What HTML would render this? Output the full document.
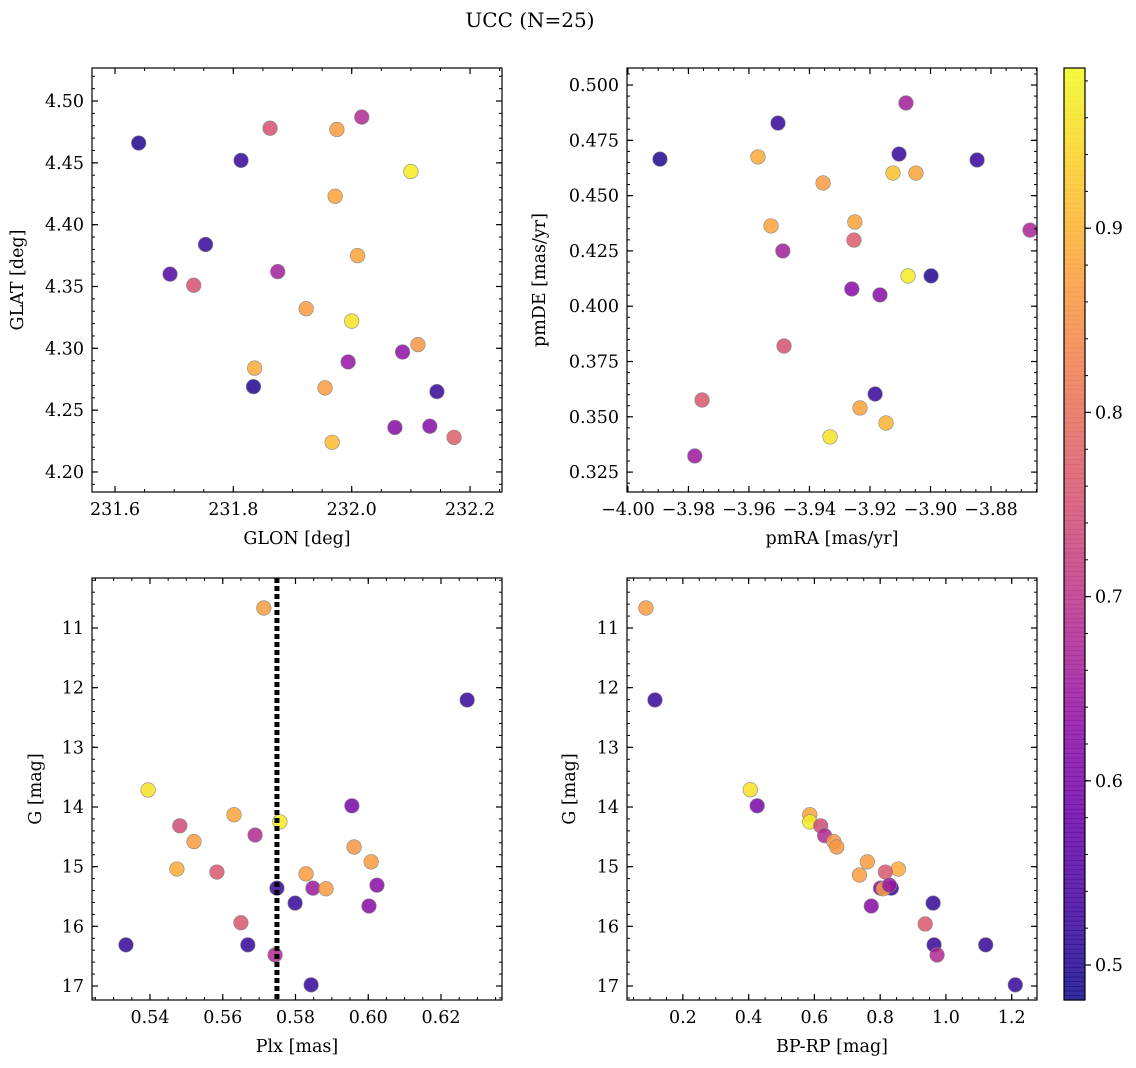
<!DOCTYPE html>
<html><head><meta charset="utf-8">
<style>
html,body{margin:0;padding:0;background:#fff;}
svg{display:block;font-family:"DejaVu Serif","Liberation Serif",serif;}
</style></head>
<body>
<svg id="fig" width="1136" height="1068" viewBox="0 0 1136 1068" xmlns="http://www.w3.org/2000/svg">
<text x="530" y="27" font-size="20" text-anchor="middle">UCC (N=25)</text>
</svg>
<script>
// ---- data (per panel) ----
const glon = [231.640,231.813,231.862,231.975,232.017,232.100,231.972,231.753,232.010,231.693,231.733,231.875,231.923,232.000,232.112,232.086,231.994,231.836,231.834,231.955,232.144,231.967,232.073,232.132,232.173];
const glat = [4.466,4.452,4.478,4.477,4.487,4.443,4.423,4.384,4.375,4.360,4.351,4.362,4.332,4.322,4.303,4.297,4.289,4.284,4.269,4.268,4.265,4.224,4.236,4.237,4.228];
const probTL = [0.50,0.52,0.75,0.87,0.68,0.97,0.88,0.52,0.88,0.55,0.75,0.66,0.87,0.96,0.86,0.63,0.64,0.89,0.50,0.87,0.52,0.91,0.62,0.62,0.77];
const pmra = [-3.9894,-3.9504,-3.9570,-3.9355,-3.9081,-3.9104,-3.8846,-3.9124,-3.9048,-3.9527,-3.9250,-3.9488,-3.9253,-3.8671,-3.9074,-3.8998,-3.9260,-3.9167,-3.9484,-3.9755,-3.9183,-3.9233,-3.9147,-3.9332,-3.9779];
const pmde = [0.4665,0.4828,0.4675,0.4557,0.4919,0.4688,0.4661,0.4602,0.4602,0.4363,0.4381,0.4250,0.4299,0.4344,0.4137,0.4137,0.4078,0.4051,0.3820,0.3576,0.3603,0.3540,0.3472,0.3409,0.3323];
const probTR = [0.50,0.52,0.89,0.87,0.66,0.52,0.52,0.92,0.88,0.88,0.88,0.66,0.77,0.67,0.97,0.50,0.62,0.62,0.75,0.76,0.52,0.88,0.90,0.96,0.65];
const plx = [0.5713,0.6272,0.5395,0.5955,0.5482,0.5631,0.5521,0.5689,0.5757,0.5961,0.6008,0.5474,0.5584,0.5829,0.5749,0.5848,0.5884,0.6024,0.5799,0.6002,0.5650,0.5334,0.5669,0.5744,0.5843];
const gmagBL = [10.665,12.206,13.714,13.98,14.315,14.13,14.58,14.47,14.25,14.67,14.92,15.04,15.09,15.12,15.36,15.36,15.37,15.31,15.61,15.66,15.94,16.31,16.31,16.48,16.98];
const probBL = [0.87,0.52,0.96,0.60,0.74,0.88,0.87,0.68,0.97,0.86,0.87,0.89,0.76,0.87,0.52,0.65,0.87,0.62,0.52,0.62,0.76,0.52,0.52,0.68,0.52];
const bprp = [0.0876,0.115,0.405,0.426,0.586,0.586,0.619,0.631,0.659,0.668,0.761,0.855,0.737,0.816,0.801,0.834,0.810,0.961,0.773,0.937,0.964,1.121,0.973,1.211,0.828];
const gmagBR = [10.665,12.206,13.71,13.98,14.13,14.25,14.315,14.48,14.58,14.67,14.92,15.04,15.14,15.09,15.36,15.36,15.37,15.61,15.66,15.96,16.31,16.31,16.48,16.98,15.31];
const probBR = [0.87,0.52,0.96,0.60,0.88,0.97,0.74,0.68,0.87,0.86,0.87,0.89,0.87,0.76,0.62,0.52,0.87,0.52,0.62,0.76,0.52,0.52,0.68,0.52,0.65];
const plxLine = 0.5749;
const cbTicks = [0.5,0.6,0.7,0.8,0.9];
const vmin = 0.481, vmax = 0.987;

const NS = "http://www.w3.org/2000/svg";
const svg = document.getElementById('fig');
function mk(tag, attrs, parent){ const e=document.createElementNS(NS,tag); for(const k in attrs) e.setAttribute(k,attrs[k]); (parent||svg).appendChild(e); return e; }

const plasma = [[13,8,135],[65,4,157],[106,0,168],[143,13,164],[177,42,144],[204,71,120],[225,100,98],[242,132,75],[252,166,54],[252,206,37],[240,249,33]];
function cmap(v){
  let t=(v-vmin)/(vmax-vmin); t=Math.max(0,Math.min(1,t));
  const p=t*10, i=Math.min(9,Math.floor(p)), f=p-i;
  const a=plasma[i], b=plasma[i+1];
  return 'rgb('+a.map((c,k)=>Math.round(c+(b[k]-c)*f)).join(',')+')';
}
function fmt(v,d){ return v.toFixed(d).replace('-','\u2212'); }
const TF=17.5, LF=17.5;

function panel(cfg){
  const {x0,x1,y0,y1,xmin,xmax,ymin,ymax,invY,name}=cfg;
  const sx=v=>x0+(v-xmin)/(xmax-xmin)*(x1-x0);
  const sy=v=> invY ? y0+(v-ymin)/(ymax-ymin)*(y1-y0) : y1-(v-ymin)/(ymax-ymin)*(y1-y0);
  const g=mk('g',{});
  
  
  for(let i=0;i<cfg.xs.length;i++){
    const c=mk('circle',{cx:sx(cfg.xs[i]),cy:sy(cfg.ys[i]),r:7.3,fill:cmap(cfg.ps[i]),'fill-opacity':0.85,stroke:'#888','stroke-width':0.6},g);
    
    
  }
  if(cfg.vline!==undefined){
    const l=mk('line',{x1:sx(cfg.vline),x2:sx(cfg.vline),y1:y0,y2:y1,stroke:'#000','stroke-width':5,'stroke-dasharray':'5,3'},g);
    
    
  }
  const eps=1e-9;
  function ticks(step,lo,hi){ const out=[]; for(let k=Math.ceil(lo/step-eps);k*step<=hi+eps;k++) out.push(k*step); return out; }
  const ax=mk('g',{},g);
  
  
  ticks(cfg.xminor,xmin,xmax).forEach(v=>{const X=sx(v); mk('line',{x1:X,x2:X,y1:y1,y2:y1-3,stroke:'#000'},ax); mk('line',{x1:X,x2:X,y1:y0,y2:y0+3,stroke:'#000'},ax);});
  ticks(cfg.xmajor,xmin,xmax).forEach(v=>{const X=sx(v); mk('line',{x1:X,x2:X,y1:y1,y2:y1-6,stroke:'#000','stroke-width':1.2},ax); mk('line',{x1:X,x2:X,y1:y0,y2:y0+6,stroke:'#000','stroke-width':1.2},ax);
    const t=mk('text',{x:X,y:y1+23,'font-size':TF,'text-anchor':'middle'},ax); t.textContent=fmt(v,cfg.xd);
    
    });
  const ay=mk('g',{},g);
  
  
  ticks(cfg.yminor,Math.min(ymin,ymax),Math.max(ymin,ymax)).forEach(v=>{const Y=sy(v); mk('line',{x1:x0,x2:x0+3,y1:Y,y2:Y,stroke:'#000'},ay); mk('line',{x1:x1,x2:x1-3,y1:Y,y2:Y,stroke:'#000'},ay);});
  ticks(cfg.ymajor,Math.min(ymin,ymax),Math.max(ymin,ymax)).forEach(v=>{const Y=sy(v); mk('line',{x1:x0,x2:x0+6,y1:Y,y2:Y,stroke:'#000','stroke-width':1.2},ay); mk('line',{x1:x1,x2:x1-6,y1:Y,y2:Y,stroke:'#000','stroke-width':1.2},ay);
    const t=mk('text',{x:x0-8,y:Y+6,'font-size':TF,'text-anchor':'end'},ay); t.textContent=fmt(v,cfg.yd);
    
    });
  const fr=mk('rect',{x:x0,y:y0,width:x1-x0,height:y1-y0,fill:'none',stroke:'#000','stroke-width':1.2},g);
  
  
  const xl=mk('text',{x:(x0+x1)/2,y:y1+52,'font-size':LF,'text-anchor':'middle'},g); xl.textContent=cfg.xlabel;
  
  
  const yc=(y0+y1)/2, yx=cfg.ylx;
  const yl=mk('text',{x:yx,y:yc,'font-size':LF,'text-anchor':'middle',transform:'rotate(-90 '+yx+' '+yc+')'},g); yl.textContent=cfg.ylabel;
  
  
}

panel({name:'glon-glat',x0:92,x1:502,y0:68,y1:492,xmin:231.5611,xmax:232.254,ymin:4.1838,ymax:4.5267,xmajor:0.2,xminor:0.05,ymajor:0.05,yminor:0.01,xd:1,yd:2,xs:glon,ys:glat,ps:probTL,xlabel:'GLON [deg]',ylabel:'GLAT [deg]',ylx:23});
panel({name:'pm',x0:627,x1:1037,y0:68,y1:492,xmin:-4.0003,xmax:-3.8648,ymin:0.316,ymax:0.5077,xmajor:0.02,xminor:0.005,ymajor:0.025,yminor:0.005,xd:2,yd:3,xs:pmra,ys:pmde,ps:probTR,xlabel:'pmRA [mas/yr]',ylabel:'pmDE [mas/yr]',ylx:545});
panel({name:'plx-g',x0:92,x1:502,y0:578,y1:1000,xmin:0.52406,xmax:0.63677,ymin:10.162,ymax:17.2345,invY:true,xmajor:0.02,xminor:0.005,ymajor:1,yminor:0.2,xd:2,yd:0,xs:plx,ys:gmagBL,ps:probBL,vline:plxLine,xlabel:'Plx [mas]',ylabel:'G [mag]',ylx:41});
panel({name:'cmd',x0:627,x1:1037,y0:578,y1:1000,xmin:0.030,xmax:1.277,ymin:10.162,ymax:17.2345,invY:true,xmajor:0.2,xminor:0.05,ymajor:1,yminor:0.2,xd:1,yd:0,xs:bprp,ys:gmagBR,ps:probBR,xlabel:'BP-RP [mag]',ylabel:'G [mag]',ylx:575});

(function(){
  const cx0=1064,cx1=1085,cy0=68,cy1=1000;
  const g=mk('g',{});
  
  
  const N=200;
  for(let i=0;i<N;i++){
    const v=vmin+(vmax-vmin)*(i+0.5)/N;
    const yTop=cy1-(i+1)*(cy1-cy0)/N;
    mk('rect',{x:cx0,y:yTop,width:cx1-cx0,height:(cy1-cy0)/N+0.6,fill:cmap(v),'fill-opacity':0.85},g);
  }
  const sy=v=>cy1-(v-vmin)/(vmax-vmin)*(cy1-cy0);
  for(let k=Math.ceil(vmin/0.02);k*0.02<=vmax;k++){const Y=sy(k*0.02); mk('line',{x1:cx1,x2:cx1+3,y1:Y,y2:Y,stroke:'#000'},g);}
  cbTicks.forEach(v=>{const Y=sy(v); mk('line',{x1:cx1,x2:cx1+6,y1:Y,y2:Y,stroke:'#000','stroke-width':1.2},g);
    const t=mk('text',{x:cx1+10,y:Y+6,'font-size':TF},g); t.textContent=v.toFixed(1);
    
    });
  mk('rect',{x:cx0,y:cy0,width:cx1-cx0,height:cy1-cy0,fill:'none',stroke:'#000','stroke-width':1.2},g);
})();
</script>
</body></html>
